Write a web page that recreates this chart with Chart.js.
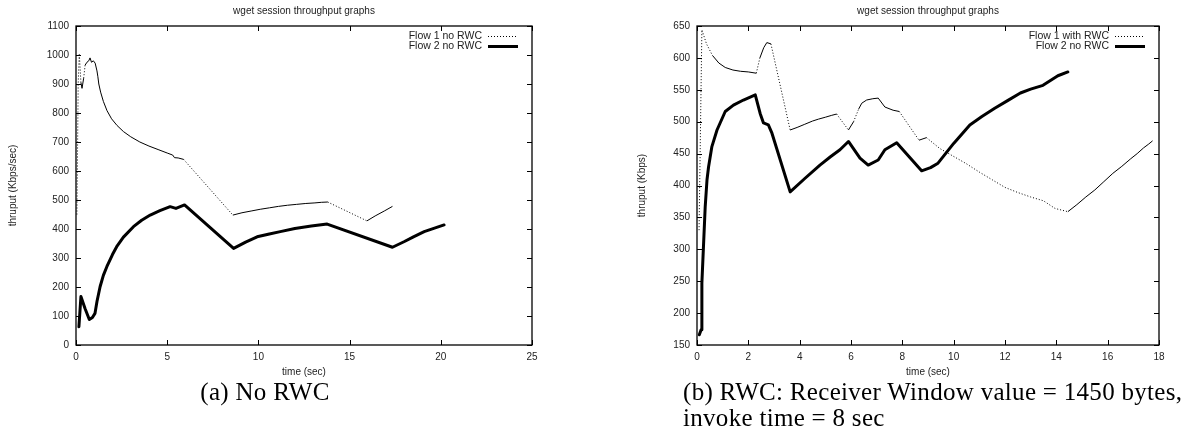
<!DOCTYPE html>
<html>
<head>
<meta charset="utf-8">
<title>wget session throughput graphs</title>
<script src="https://cdn.jsdelivr.net/npm/chart.js@4.4.4/dist/chart.umd.min.js"></script>
<style>
  html, body { margin: 0; padding: 0; background: #fff; }
  body { position: relative; width: 1204px; height: 439px; overflow: hidden; }
  canvas { position: absolute; top: 0; }
  #graficoA { left: 0; }
  #graficoB { left: 600px; }
  .legenda {
    position: absolute;
    font-family: 'Liberation Serif', 'DejaVu Serif', serif;
    font-size: 25px;
    letter-spacing: 0.3px;
    line-height: 26px;
    color: #000;
    white-space: nowrap;
  }
  #legendaA { left: 0; width: 530px; top: 379px; text-align: center; }
  #legendaB { left: 683px; top: 379px; }
</style>
</head>
<body>
<canvas id="graficoA" width="600" height="380"></canvas>
<canvas id="graficoB" width="604" height="380"></canvas>
<div class="legenda" id="legendaA">(a) No RWC</div>
<div class="legenda" id="legendaB">(b) RWC: Receiver Window value = 1450 bytes,<br>invoke time = 8 sec</div>

<script>
/* ═══════════════════════════════════════════
   wget session throughput graphs
   two gnuplot-style panels, values read off
   the reference picture
   ═══════════════════════════════════════════ */

/* ── Tick labels ── */
const X_TICKS_A = [0, 5, 10, 15, 20, 25];
const Y_TICKS_A = [0, 100, 200, 300, 400, 500, 600, 700, 800, 900, 1000, 1100];
const X_TICKS_B = [0, 2, 4, 6, 8, 10, 12, 14, 16, 18];
const Y_TICKS_B = [150, 200, 250, 300, 350, 400, 450, 500, 550, 600, 650];

/* ── Series names ── */
const LABELS_A = ['Flow 1 no RWC', 'Flow 2 no RWC'];
const LABELS_B = ['Flow 1 with RWC', 'Flow 2 no RWC'];

/* ── Panel (a): Flow 1, time (sec) / thruput ── */
const timeA1 = [0.05, 0.12, 0.18, 0.27, 0.33, 0.42, 0.5, 0.6, 0.7, 0.77, 0.85, 0.95, 1.05, 1.15,
                1.2, 1.25, 1.35, 1.5, 1.7, 1.95, 2.25, 2.6, 3.0, 3.5, 4.0, 4.5, 5.0, 5.3, 5.4, 5.6, 5.9,
                8.6, 9.1, 9.6, 10.1, 10.6, 11.1, 11.6, 12.1, 12.6, 13.1, 13.45, 13.8,
                15.95, 16.4, 16.9, 17.35];
const rateA1 = [450, 900, 1005, 905, 885, 920, 965, 975, 980, 990, 975, 980, 972, 945,
                925, 900, 872, 840, 808, 780, 757, 736, 718, 700, 686, 674, 662, 655, 646, 645, 640,
                448, 456, 462, 468, 473, 478, 482, 485, 488, 490, 492, 493,
                428, 445, 462, 478];

/* ── Panel (a): Flow 2 ── */
const timeA2 = [0.16, 0.27, 0.5, 0.73, 0.9, 1.04, 1.15, 1.32, 1.5, 1.69, 2.0, 2.23, 2.6, 3.15, 3.6,
                4.07, 4.6, 5.16, 5.48, 5.95, 8.64, 9.3, 9.93, 10.6, 11.2, 12.0, 12.9, 13.77,
                17.35, 17.98, 18.5, 19.09, 20.18];
const rateA2 = [63, 167, 125, 88, 95, 109, 150, 201, 240, 270, 312, 339, 372, 408, 430,
                448, 463, 477, 471, 483, 333, 355, 373, 383, 391, 402, 410, 417,
                337, 356, 373, 391, 414];

/* ── Panel (b): Flow 1 ── */
const timeB1 = [0.08, 0.19, 0.37, 0.6, 0.85, 1.1, 1.4, 1.7, 2.0, 2.31, 2.45, 2.6, 2.72, 2.88,
                3.63, 3.9, 4.2, 4.5, 4.73, 5.0, 5.25, 5.44, 5.9, 6.1, 6.3, 6.42, 6.61, 6.85, 7.06,
                7.32, 7.64, 7.88, 8.65, 8.94, 9.46, 9.98, 10.5, 11.0, 11.5, 12.0, 12.5, 13.0,
                13.5, 13.95, 14.45, 14.8, 15.15, 15.5, 15.85, 16.2, 16.55, 16.9, 17.15, 17.4,
                17.6, 17.75];
const rateB1 = [330, 644, 622, 604, 592, 585, 581, 579, 578, 576, 600, 616, 624, 622,
                487, 491, 496, 501, 504, 507, 510, 512, 487, 500, 520, 529, 534, 536, 537,
                523, 518, 516, 471, 475, 458, 446, 434, 421, 409, 397, 389, 382,
                376, 364, 359, 370, 382, 393, 406, 419, 430, 442, 450, 459,
                465, 470];

/* ── Panel (b): Flow 2 ── */
const timeB2 = [0.09, 0.16, 0.19, 0.32, 0.39, 0.45, 0.58, 0.78, 1.1, 1.42, 1.81, 2.27, 2.46, 2.59,
                2.78, 2.92, 3.63, 4.2, 4.79, 5.2, 5.57, 5.9, 6.35, 6.67, 7.06, 7.32, 7.78, 8.75,
                9.1, 9.39, 10.0, 10.63, 11.1, 11.6, 12.1, 12.6, 13.0, 13.48, 14.06, 14.45];
const rateB2 = [166, 174, 247, 367, 409, 429, 461, 487, 516, 526, 534, 542, 513, 498,
                495, 482, 390, 411, 432, 445, 456, 469, 443, 432, 440, 456, 467, 423,
                428, 435, 466, 495, 508, 521, 533, 545, 551, 557, 572, 578];

(function () {
  'use strict';

  /* ── Look ── */
  const TEXTO = '#222';
  const FONTE = "'Liberation Sans', Arial, sans-serif";
  const TICK = 5;          // inward tick length, px
  const DOT_SEG = 12.5;    // longer segments come out dotted, like the gnuplot dotted style
  const DOTS = [1, 2];

  function pontos(ts, vs) {
    return ts.map((t, i) => ({ x: t, y: vs[i] }));
  }

  /* sparse stretches of the thin series show their dash pattern, dense ones look solid */
  function pontilhado(ctx) {
    const dx = ctx.p1.x - ctx.p0.x;
    const dy = ctx.p1.y - ctx.p0.y;
    return Math.hypot(dx, dy) > DOT_SEG ? DOTS : undefined;
  }

  /* ────────────────────────────────────────────
     moldura — box, inward ticks on all four sides,
     title and the key in the top right corner
  ─────────────────────────────────────────────── */
  const moldura = {
    id: 'moldura',
    afterDatasetsDraw(chart, args, opts) {
      const { ctx, chartArea: a, scales } = chart;
      const x = scales.x, y = scales.y;
      ctx.save();

      ctx.strokeStyle = '#000';
      ctx.lineWidth = 1.3;
      ctx.strokeRect(a.left, a.top, a.right - a.left, a.bottom - a.top);

      ctx.lineWidth = 1;
      ctx.beginPath();
      x.ticks.forEach(t => {
        const px = Math.round(x.getPixelForValue(t.value)) + 0.5;
        ctx.moveTo(px, a.bottom); ctx.lineTo(px, a.bottom - TICK);
        ctx.moveTo(px, a.top);    ctx.lineTo(px, a.top + TICK);
      });
      y.ticks.forEach(t => {
        const py = Math.round(y.getPixelForValue(t.value)) + 0.5;
        ctx.moveTo(a.left, py);  ctx.lineTo(a.left + TICK, py);
        ctx.moveTo(a.right, py); ctx.lineTo(a.right - TICK, py);
      });
      ctx.stroke();

      /* title */
      ctx.fillStyle = TEXTO;
      ctx.font = '10px ' + FONTE;
      ctx.textBaseline = 'middle';
      ctx.textAlign = 'center';
      ctx.fillText(opts.titulo, (a.left + a.right) / 2, 11);

      /* key */
      ctx.font = '10.5px ' + FONTE;
      ctx.textAlign = 'right';
      chart.data.datasets.forEach((ds, i) => {
        const yy = a.top + 10 + i * 10;
        ctx.fillText(ds.label, a.right - 50, yy);
        ctx.beginPath();
        ctx.setLineDash(ds.borderWidth > 2 ? [] : DOTS);
        ctx.lineWidth = ds.borderWidth;
        ctx.moveTo(a.right - 44, yy + 0.5);
        ctx.lineTo(a.right - 14, yy + 0.5);
        ctx.stroke();
      });
      ctx.restore();
    }
  };

  function criarGrafico(id, cfg) {
    const fonte = { family: FONTE, size: 10 };
    const simples = v => String(v);   // no thousands separator, gnuplot style
    return new Chart(document.getElementById(id), {
      type: 'line',
      data: {
        datasets: [
          {
            label: cfg.rotulos[0],
            data: pontos(cfg.t1, cfg.v1),
            borderColor: '#000',
            borderWidth: 1,
            pointRadius: 0,
            tension: 0,
            segment: { borderDash: pontilhado }
          },
          {
            label: cfg.rotulos[1],
            data: pontos(cfg.t2, cfg.v2),
            borderColor: '#000',
            borderWidth: 3,
            borderJoinStyle: 'round',
            borderCapStyle: 'round',
            pointRadius: 0,
            tension: 0
          }
        ]
      },
      options: {
        responsive: false,
        animation: false,
        events: [],
        devicePixelRatio: 1,
        layout: { padding: cfg.padding },
        plugins: {
          legend: { display: false },
          tooltip: { enabled: false },
          moldura: { titulo: 'wget session throughput graphs' }
        },
        scales: {
          x: {
            type: 'linear',
            min: cfg.xTicks[0],
            max: cfg.xTicks[cfg.xTicks.length - 1],
            afterBuildTicks: s => { s.ticks = cfg.xTicks.map(v => ({ value: v })); },
            afterFit: s => { s.height = 35; },
            grid: { display: false, drawTicks: false },
            border: { display: false },
            ticks: { padding: 6, color: TEXTO, font: fonte, maxRotation: 0, autoSkip: false, callback: simples },
            title: { display: true, text: 'time (sec)', color: TEXTO, font: fonte, padding: { top: 0, bottom: 2 } }
          },
          y: {
            type: 'linear',
            min: cfg.yTicks[0],
            max: cfg.yTicks[cfg.yTicks.length - 1],
            afterBuildTicks: s => { s.ticks = cfg.yTicks.map(v => ({ value: v })); },
            afterFit: s => { s.width = cfg.larguraY; },
            grid: { display: false, drawTicks: false },
            border: { display: false },
            ticks: { padding: 7, color: TEXTO, font: fonte, autoSkip: false, callback: simples },
            title: { display: true, text: cfg.tituloY, color: TEXTO, font: fonte, padding: { top: 7, bottom: 0 } }
          }
        }
      },
      plugins: [moldura]
    });
  }

  criarGrafico('graficoA', {
    rotulos: LABELS_A,
    t1: timeA1, v1: rateA1, t2: timeA2, v2: rateA2,
    xTicks: X_TICKS_A, yTicks: Y_TICKS_A,
    tituloY: 'thruput (Kbps/sec)',
    larguraY: 76,
    padding: { left: 0, right: 68, top: 26, bottom: 0 }
  });

  criarGrafico('graficoB', {
    rotulos: LABELS_B,
    t1: timeB1, v1: rateB1, t2: timeB2, v2: rateB2,
    xTicks: X_TICKS_B, yTicks: Y_TICKS_B,
    tituloY: 'thruput (Kbps)',
    larguraY: 68,
    padding: { left: 29, right: 45, top: 26, bottom: 0 }
  });
})();
</script>
</body>
</html>
